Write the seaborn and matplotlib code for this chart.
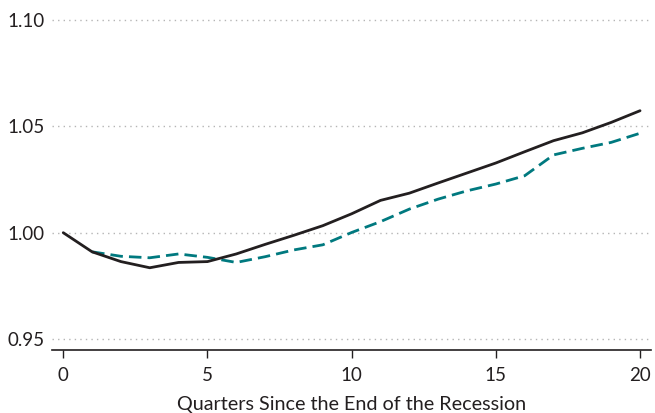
import matplotlib
matplotlib.use("Agg")
import matplotlib.pyplot as plt
import seaborn as sns
import pandas as pd

quarters = list(range(0, 21))
black_vals = [1.000, 0.991, 0.9864, 0.9835, 0.986, 0.9864, 0.990, 0.9945, 0.9988, 1.0033,
              1.0089, 1.0152, 1.0186, 1.0234, 1.0281, 1.0328, 1.0381, 1.0433, 1.047, 1.0519, 1.0574]
teal_quarters = list(range(1, 21))
teal_vals = [0.991, 0.9889, 0.9882, 0.990, 0.9884, 0.986, 0.9887, 0.9919, 0.9943, 1.0001,
             1.0052, 1.0111, 1.0158, 1.0197, 1.0229, 1.0268, 1.0366, 1.0397, 1.0425, 1.0468]
yticks = [0.95, 1.00, 1.05, 1.10]
ytick_labels = ["0.95", "1.00", "1.05", "1.10"]
xticks = [0, 5, 10, 15, 20]
xlabel = "Quarters Since the End of the Recession"

sns.set_theme(style="white")
plt.rcParams['font.family'] = ['Lato', 'DejaVu Sans']

black_df = pd.DataFrame({"q": quarters, "v": black_vals})
teal_df = pd.DataFrame({"q": teal_quarters, "v": teal_vals})

fig = plt.figure(figsize=(6.55, 4.13), dpi=100)
ax = fig.add_axes([52/655, 63/413, (651-52)/655, (350-17)/413])

sns.lineplot(data=teal_df, x="q", y="v", ax=ax, color="#00797f", linewidth=2.0,
             linestyle=(0, (4.5, 2.2)))
sns.lineplot(data=black_df, x="q", y="v", ax=ax, color="#231f20", linewidth=2.0)

ax.set_xlim(-0.39, 20.38)
ax.set_ylim(0.9448, 1.1015)
ax.set_yticks(yticks)
ax.set_yticklabels(ytick_labels)
ax.set_xticks(xticks)
ax.set_xticklabels([str(t) for t in xticks])

for y in yticks:
    ax.axhline(y, color="#b5b5b5", linestyle=(0, (1, 3)), linewidth=1.0, zorder=0)

for s in ["top", "right", "left"]:
    ax.spines[s].set_visible(False)
ax.spines["bottom"].set_color("#231f20")
ax.spines["bottom"].set_linewidth(1.2)

ax.tick_params(axis="x", direction="out", length=6, width=1.0, color="#231f20",
               labelsize=13.5, labelcolor="#231f20", pad=6, bottom=True)
ax.tick_params(axis="y", length=0, labelsize=13.5, labelcolor="#231f20", pad=5)
ax.set_xlabel(xlabel, fontsize=14.2, color="#231f20", labelpad=9)
ax.set_ylabel("")

fig.savefig("out.png", dpi=100)
